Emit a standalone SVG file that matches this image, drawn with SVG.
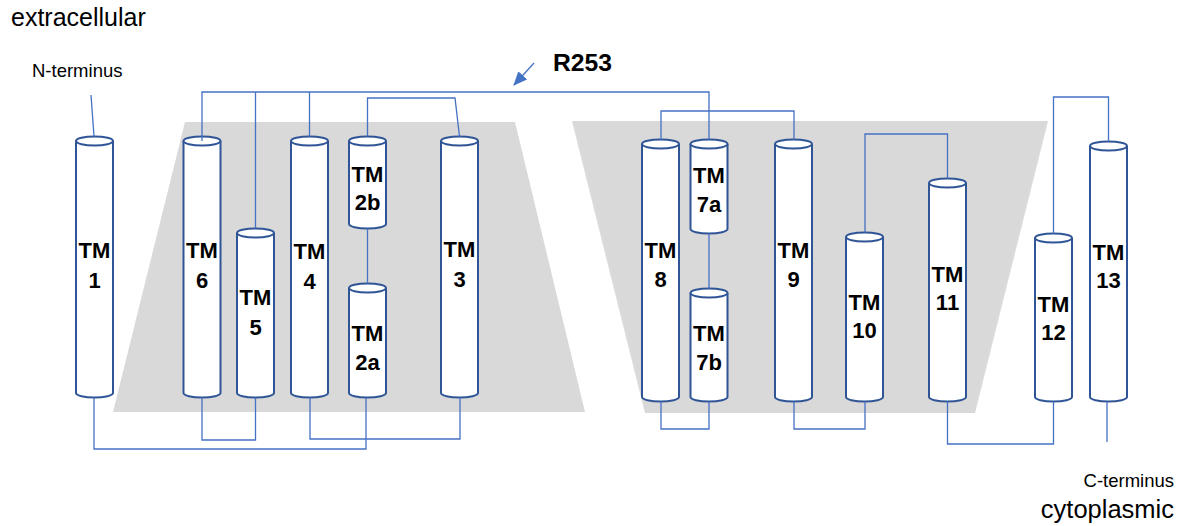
<svg xmlns="http://www.w3.org/2000/svg" width="1180" height="526" viewBox="0 0 1180 526">
<defs>
<style>
.cyl path{fill:#fff;stroke:#2F5597;stroke-width:2}
.cyl ellipse{fill:#fff;stroke:#2F5597;stroke-width:2}
.lbl{font-family:"Liberation Sans",Arial,sans-serif;font-weight:bold;font-size:22px;fill:#000;text-anchor:middle}
.con path{fill:none;stroke:#4472C4;stroke-width:1.3}
.txt{font-family:"Liberation Sans",Arial,sans-serif;fill:#000}
</style>
<marker id="ah" viewBox="0 0 14 12" refX="13" refY="6" markerWidth="14" markerHeight="12" markerUnits="userSpaceOnUse" orient="auto"><path d="M0,0 L14,6 L0,12 z" fill="#4472C4"/></marker>
</defs>
<rect width="1180" height="526" fill="#fff"/>
<g id="membrane">
<polygon points="185,122 515,122 585,412 113,412" fill="#D9D9D9"/>
<polygon points="572,121 1048,121 975,413 645,413" fill="#D9D9D9"/>
</g>
<g id="labels" class="txt">
<text x="11" y="26" font-size="25">extracellular</text>
<text x="32" y="77" font-size="18.5">N-terminus</text>
<text x="1174" y="487" font-size="18.5" text-anchor="end">C-terminus</text>
<text x="1174" y="518" font-size="25.5" text-anchor="end">cytoplasmic</text>
<text x="553" y="71" font-size="23" font-weight="bold" textLength="59" lengthAdjust="spacingAndGlyphs">R253</text>
</g>
<g id="TM1" class="cyl"><path d="M76 141 V393 A18.5 4.5 0 0 0 113 393 V141"/><ellipse cx="94.5" cy="141" rx="18.5" ry="4.5"/><text class="lbl" x="94.5" y="258">TM</text><text class="lbl" x="94.5" y="288">1</text></g>
<g id="TM6" class="cyl"><path d="M183.5 141 V393 A18.5 4.5 0 0 0 220.5 393 V141"/><ellipse cx="202" cy="141" rx="18.5" ry="4.5"/><text class="lbl" x="202" y="258">TM</text><text class="lbl" x="202" y="288">6</text></g>
<g id="TM5" class="cyl"><path d="M237 233 V393 A18.5 4.5 0 0 0 274 393 V233"/><ellipse cx="255.5" cy="233" rx="18.5" ry="4.5"/><text class="lbl" x="255.5" y="305">TM</text><text class="lbl" x="255.5" y="335">5</text></g>
<g id="TM4" class="cyl"><path d="M291 141 V393 A18.5 4.5 0 0 0 328 393 V141"/><ellipse cx="309.5" cy="141" rx="18.5" ry="4.5"/><text class="lbl" x="309.5" y="259">TM</text><text class="lbl" x="309.5" y="289">4</text></g>
<g id="TM2b" class="cyl"><path d="M349 141 V224 A18.5 4.5 0 0 0 386 224 V141"/><ellipse cx="367.5" cy="141" rx="18.5" ry="4.5"/><text class="lbl" x="367.5" y="182">TM</text><text class="lbl" x="367.5" y="210">2b</text></g>
<g id="TM2a" class="cyl"><path d="M349 288 V393 A18.5 4.5 0 0 0 386 393 V288"/><ellipse cx="367.5" cy="288" rx="18.5" ry="4.5"/><text class="lbl" x="367.5" y="341">TM</text><text class="lbl" x="367.5" y="370">2a</text></g>
<g id="TM3" class="cyl"><path d="M441 141 V393 A18.5 4.5 0 0 0 478 393 V141"/><ellipse cx="459.5" cy="141" rx="18.5" ry="4.5"/><text class="lbl" x="459.5" y="257">TM</text><text class="lbl" x="459.5" y="287">3</text></g>
<g id="TM8" class="cyl"><path d="M642 144 V397 A18.5 4.5 0 0 0 679 397 V144"/><ellipse cx="660.5" cy="144" rx="18.5" ry="4.5"/><text class="lbl" x="660.5" y="258">TM</text><text class="lbl" x="660.5" y="287">8</text></g>
<g id="TM7a" class="cyl"><path d="M690.5 144 V229 A18.5 4.5 0 0 0 727.5 229 V144"/><ellipse cx="709" cy="144" rx="18.5" ry="4.5"/><text class="lbl" x="709" y="183">TM</text><text class="lbl" x="709" y="212">7a</text></g>
<g id="TM7b" class="cyl"><path d="M690.5 293 V397 A18.5 4.5 0 0 0 727.5 397 V293"/><ellipse cx="709" cy="293" rx="18.5" ry="4.5"/><text class="lbl" x="709" y="341">TM</text><text class="lbl" x="709" y="370">7b</text></g>
<g id="TM9" class="cyl"><path d="M775 144 V397 A18.5 4.5 0 0 0 812 397 V144"/><ellipse cx="793.5" cy="144" rx="18.5" ry="4.5"/><text class="lbl" x="793.5" y="258">TM</text><text class="lbl" x="793.5" y="287">9</text></g>
<g id="TM10" class="cyl"><path d="M846 237 V397 A18.5 4.5 0 0 0 883 397 V237"/><ellipse cx="864.5" cy="237" rx="18.5" ry="4.5"/><text class="lbl" x="864.5" y="310">TM</text><text class="lbl" x="864.5" y="338">10</text></g>
<g id="TM11" class="cyl"><path d="M929 183 V397 A18.5 4.5 0 0 0 966 397 V183"/><ellipse cx="947.5" cy="183" rx="18.5" ry="4.5"/><text class="lbl" x="947.5" y="282">TM</text><text class="lbl" x="947.5" y="310">11</text></g>
<g id="TM12" class="cyl"><path d="M1035 238 V397 A18.5 4.5 0 0 0 1072 397 V238"/><ellipse cx="1053.5" cy="238" rx="18.5" ry="4.5"/><text class="lbl" x="1053.5" y="312">TM</text><text class="lbl" x="1053.5" y="340">12</text></g>
<g id="TM13" class="cyl"><path d="M1090 146 V397 A18.5 4.5 0 0 0 1127 397 V146"/><ellipse cx="1108.5" cy="146" rx="18.5" ry="4.5"/><text class="lbl" x="1108.5" y="260">TM</text><text class="lbl" x="1108.5" y="288">13</text></g>
<g id="connectors" class="con">
<path d="M91 95 L94 136.5"/>
<path d="M202 141 V92 H709 V139.5"/>
<path d="M255.5 228.5 V92"/>
<path d="M309.5 136.5 V92"/>
<path d="M367.5 136.5 V98 H455 L459.5 136.5"/>
<path d="M367.5 228.5 V283.5"/>
<path d="M94 397.5 V449 H366 V397.5"/>
<path d="M202 397.5 V440 H255.5 V397.5"/>
<path d="M310 397.5 V439 H460 V397.5"/>
<path d="M661 139.5 V111 H794 V139.5"/>
<path d="M709 233.5 V288.5"/>
<path d="M865 232.5 V134 H947.5 V178.5"/>
<path d="M661 401.5 V429 H709 V401.5"/>
<path d="M794 401.5 V429 H865 V401.5"/>
<path d="M947.5 401.5 V444 H1053.5 V401.5"/>
<path d="M1053.5 233.5 V97 H1108.5 V141.5"/>
<path d="M1107 401.5 V442"/>
<path d="M534 63 L514 85" marker-end="url(#ah)"/>
</g>
</svg>
